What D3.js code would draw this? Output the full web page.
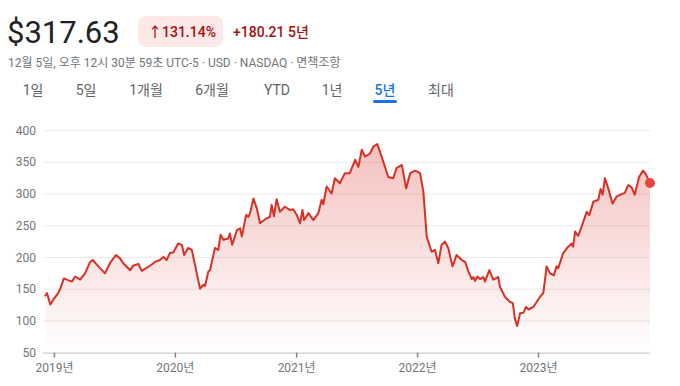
<!DOCTYPE html>
<html lang="ko">
<head>
<meta charset="utf-8">
<title>5년 주가 차트</title>
<script src="https://cdn.jsdelivr.net/npm/d3@7"></script>
<style>
  body { margin: 0; background: #fff; }
  svg { display: block; font-family: Roboto, "Noto Sans CJK KR", Arial, sans-serif; }
</style>
</head>
<body>
<script>
// ---- data ----
var dates = [
  "2018-12-05","2018-12-11","2018-12-21","2019-01-01","2019-01-10","2019-01-19","2019-01-31",
  "2019-02-09","2019-02-24","2019-03-06","2019-03-21","2019-04-05","2019-04-20","2019-04-28",
  "2019-05-15","2019-06-04","2019-06-19","2019-07-07","2019-07-19","2019-07-29","2019-08-19",
  "2019-08-28","2019-09-13","2019-09-23","2019-10-18","2019-11-02","2019-11-17","2019-11-27",
  "2019-12-07","2019-12-17","2019-12-27","2020-01-11","2020-01-22","2020-01-29","2020-02-10",
  "2020-02-21","2020-03-02","2020-03-07","2020-03-17","2020-03-27","2020-04-01","2020-04-11",
  "2020-04-16","2020-05-01","2020-05-11","2020-05-18","2020-05-26","2020-06-10","2020-06-15",
  "2020-06-22","2020-07-06","2020-07-16","2020-07-21","2020-08-03","2020-08-10","2020-08-15",
  "2020-08-25","2020-09-04","2020-09-14","2020-10-04","2020-10-14","2020-10-19","2020-10-26",
  "2020-11-03","2020-11-13","2020-11-28","2020-12-13","2020-12-23","2021-01-03","2021-01-13",
  "2021-01-20","2021-01-25","2021-02-07","2021-02-22","2021-03-09","2021-03-19","2021-03-24",
  "2021-04-03","2021-04-18","2021-04-28","2021-05-13","2021-05-28","2021-06-12","2021-06-28",
  "2021-07-08","2021-07-18","2021-07-28","2021-08-12","2021-08-22","2021-09-03","2021-09-16",
  "2021-10-06","2021-10-21","2021-10-31","2021-11-16","2021-11-29","2021-12-11","2021-12-26",
  "2022-01-10","2022-01-20","2022-01-30","2022-02-14","2022-02-24","2022-03-06","2022-03-16",
  "2022-03-26","2022-04-05","2022-04-18","2022-04-30","2022-05-16","2022-05-26","2022-06-05",
  "2022-06-15","2022-06-20","2022-06-25","2022-07-02","2022-07-10","2022-07-20","2022-07-25",
  "2022-08-07","2022-08-19","2022-09-03","2022-09-08","2022-09-23","2022-10-08","2022-10-17",
  "2022-10-23","2022-10-30","2022-11-08","2022-11-18","2022-11-26","2022-12-03","2022-12-18",
  "2023-01-07","2023-01-12","2023-01-17","2023-01-27","2023-02-06","2023-02-18","2023-02-26",
  "2023-03-03","2023-03-18","2023-04-02","2023-04-13","2023-04-17","2023-04-23","2023-05-02",
  "2023-05-13","2023-05-28","2023-06-05","2023-06-17","2023-07-02","2023-07-09","2023-07-15",
  "2023-07-22","2023-08-01","2023-08-14","2023-08-26","2023-09-10","2023-09-20","2023-09-30",
  "2023-10-10","2023-10-20","2023-11-02","2023-11-14","2023-11-22","2023-12-05"
];
var prices = [
  139,144,126,135,141,149,167,
  165,162,170,165,175,193,196,
  186,175,191,204,199,191,180,
  187,190,179,187,193,196,201,
  196,207,208,222,220,204,215,
  212,188,175,151,157,155,178,
  180,215,212,236,228,230,238,
  220,243,246,233,267,264,270,
  293,278,254,262,264,283,265,
  292,272,280,275,276,267,254,
  275,259,270,259,270,291,284,
  312,301,325,317,333,333,354,
  343,370,359,364,375,379,359,
  327,325,341,346,309,333,337,
  333,304,233,209,212,191,220,
  225,215,186,204,196,193,178,
  166,169,163,170,166,169,162,
  180,165,169,154,138,130,128,
  104,92,112,113,122,118,122,
  138,141,144,186,175,172,186,
  183,207,217,222,217,241,234,
  249,272,267,288,291,308,299,
  325,309,285,296,300,302,314,
  311,299,327,337,332,317.63
];
var yTicks = [50, 100, 150, 200, 250, 300, 350, 400];
var xTickYears = [2019, 2020, 2021, 2022, 2023];
var tabs = ["1일", "5일", "1개월", "6개월", "YTD", "1년", "5년", "최대"];
var tabCenters = [33, 86, 146, 212, 277, 332, 385, 441];
var activeTab = "5년";

var price = "$317.63";
var changePct = "131.14%";
var changeAbs = "+180.21 5년";
var subtitle = "12월 5일, 오후 12시 30분 59초 UTC-5 · USD · NASDAQ · 면책조항";

// ---- size ----
var w = 680;
var h = 386;
var red = "#d93025";

var parse = d3.timeParse("%Y-%m-%d");
var data = dates.map(function(d, i) {
  return { date: parse(d), value: prices[i] };
});

var xScale = d3.scaleTime()
  .domain([parse("2018-12-05"), parse("2023-12-05")])
  .range([45, 650]);

var yScale = d3.scaleLinear()
  .domain([50, 400])
  .range([352.6, 130.7]);

var svg = d3.select("body")
  .append("svg")
  .attr("width", w)
  .attr("height", h);

// ---- header ----
svg.append("text")
  .attr("x", 7).attr("y", 43)
  .attr("font-size", "31px")
  .attr("fill", "#202124")
  .text(price);

svg.append("rect")
  .attr("x", 138).attr("y", 16)
  .attr("width", 85).attr("height", 31)
  .attr("rx", 8)
  .attr("fill", "#fce8e6");

svg.append("text")
  .attr("x", 148).attr("y", 37)
  .attr("font-size", "14px")
  .attr("font-weight", 500)
  .attr("fill", "#a50e0e")
  .text("↑" + changePct);

svg.append("text")
  .attr("x", 233).attr("y", 37)
  .attr("font-size", "14px")
  .attr("font-weight", 500)
  .attr("fill", "#a50e0e")
  .text(changeAbs);

svg.append("text")
  .attr("x", 8).attr("y", 67)
  .attr("font-size", "12px")
  .attr("fill", "#70757a")
  .text(subtitle);

// tabs
svg.selectAll("text.tab")
  .data(tabs)
  .enter()
  .append("text")
  .attr("class", "tab")
  .attr("x", function(d, i) { return tabCenters[i]; })
  .attr("y", 95)
  .attr("text-anchor", "middle")
  .attr("font-size", "14px")
  .attr("font-weight", function(d) { return d == activeTab ? 500 : 400; })
  .attr("fill", function(d) { return d == activeTab ? "#1a73e8" : "#5f6368"; })
  .text(function(d) { return d; });

var ai = tabs.indexOf(activeTab);
svg.append("rect")
  .attr("x", tabCenters[ai] - 12).attr("y", 100)
  .attr("width", 24).attr("height", 3)
  .attr("rx", 1.5)
  .attr("fill", "#1a73e8");

// ---- grid ----
svg.selectAll("line.grid")
  .data(yTicks.slice(1))
  .enter()
  .append("line")
  .attr("x1", 43).attr("x2", 650)
  .attr("y1", function(d) { return yScale(d); })
  .attr("y2", function(d) { return yScale(d); })
  .attr("stroke", "#ebebeb")
  .attr("stroke-width", 1);

svg.selectAll("text.ylab")
  .data(yTicks)
  .enter()
  .append("text")
  .attr("class", "ylab")
  .attr("x", 36)
  .attr("y", function(d) { return yScale(d) + 4; })
  .attr("text-anchor", "end")
  .attr("font-size", "12px")
  .attr("fill", "#70757a")
  .text(function(d) { return d; });

// ---- area + line ----
var defs = svg.append("defs");
var grad = defs.append("linearGradient")
  .attr("id", "fillGrad")
  .attr("x1", 0).attr("y1", 0).attr("x2", 0).attr("y2", 1);
grad.append("stop").attr("offset", "0%").attr("stop-color", red).attr("stop-opacity", 0.3);
grad.append("stop").attr("offset", "100%").attr("stop-color", red).attr("stop-opacity", 0.0);

var area = d3.area()
  .x(function(d) { return xScale(d.date); })
  .y0(yScale(50))
  .y1(function(d) { return yScale(d.value); });

var line = d3.line()
  .x(function(d) { return xScale(d.date); })
  .y(function(d) { return yScale(d.value); });

svg.append("path")
  .datum(data)
  .attr("d", area)
  .attr("fill", "url(#fillGrad)");

// bottom axis
var xAxis = d3.axisBottom(xScale)
  .tickValues(xTickYears.map(function(y) { return new Date(y, 0, 1); }))
  .tickSize(5)
  .tickFormat(function(d) { return d.getFullYear() + "년"; });

var gx = svg.append("g")
  .attr("transform", "translate(0," + yScale(50) + ")")
  .call(xAxis);
gx.select(".domain")
  .attr("d", "M43,0.5H650")
  .attr("stroke", "#bdc1c6");
gx.selectAll(".tick line").attr("stroke", "#80868b").attr("stroke-width", 1.5);
gx.selectAll(".tick text")
  .attr("y", 11)
  .attr("dy", "0.71em")
  .attr("font-size", "12px")
  .attr("font-family", "Roboto, 'Noto Sans CJK KR', sans-serif")
  .attr("fill", "#70757a");

svg.append("path")
  .datum(data)
  .attr("d", line)
  .attr("fill", "none")
  .attr("stroke", red)
  .attr("stroke-width", 2)
  .attr("stroke-linejoin", "round");

var last = data[data.length - 1];
svg.append("circle")
  .attr("cx", xScale(last.date))
  .attr("cy", yScale(last.value))
  .attr("r", 5)
  .attr("fill", "#e8453c");
</script>
</body>
</html>
